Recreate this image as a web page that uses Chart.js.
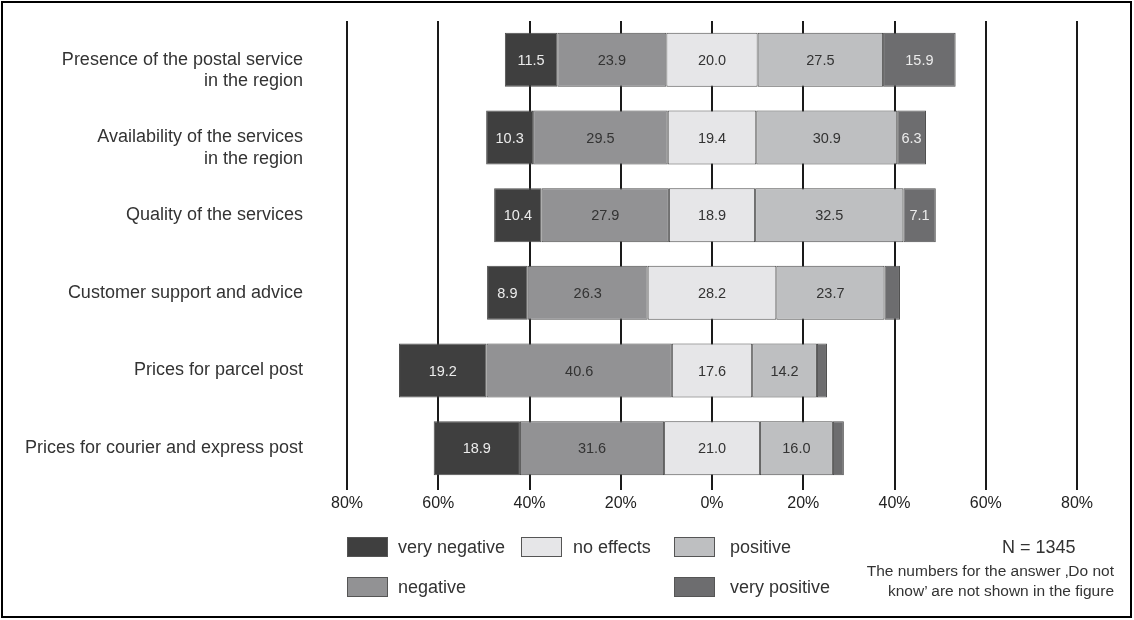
<!DOCTYPE html>
<html>
<head>
<meta charset="utf-8">
<script src="https://cdn.jsdelivr.net/npm/chart.js@4/dist/chart.umd.min.js"></script>
<style>
  html, body { margin: 0; padding: 0; background: #fff; }
  #wrap { position: relative; width: 1134px; height: 620px; overflow: hidden; font-family: "Liberation Sans", Arial, sans-serif; }
  #frame { position: absolute; left: 1px; top: 1px; width: 1131px; height: 617px; border: 2px solid #000; box-sizing: border-box; pointer-events: none; }
  #chartBox { position: absolute; left: 0; top: 0; width: 1134px; height: 620px; }
  .lg-box { position: absolute; width: 41px; height: 20px; box-sizing: border-box; border: 1px solid #555; }
  .lg-txt { position: absolute; font-size: 18px; color: #333; line-height: 20px; white-space: nowrap; }
  #nText { position: absolute; font-size: 18px; color: #333; line-height: 20px; white-space: nowrap; }
  #note { position: absolute; font-size: 15.5px; color: #333; line-height: 20px; text-align: right; white-space: nowrap; }
</style>
</head>
<body>
<div id="wrap">
  <div id="chartBox"><canvas id="c"></canvas></div>
  <div id="legend"></div>
  <div id="nText">N = 1345</div>
  <div id="note">The numbers for the answer ‚Do not<br>know’ are not shown in the figure</div>
  <div id="frame"></div>
</div>
<script>
// ---- data ----
const categories = [
  ["Presence of the postal service", "in the region"],
  ["Availability of the services", "in the region"],
  "Quality of the services",
  "Customer support and advice",
  "Prices for parcel post",
  "Prices for courier and express post"
];
const seriesNames = ["very negative", "negative", "no effects", "positive", "very positive"];
const veryNegative = [11.5, 10.3, 10.4, 8.9, 19.2, 18.9];
const negative     = [23.9, 29.5, 27.9, 26.3, 40.6, 31.6];
const noEffects    = [20.0, 19.4, 18.9, 28.2, 17.6, 21.0];
const positive     = [27.5, 30.9, 32.5, 23.7, 14.2, 16.0];
const veryPositive = [15.9, 6.3, 7.1, 3.4, 2.2, 2.4];
const xTickValues  = [-80, -60, -40, -20, 0, 20, 40, 60, 80];

// ---- styles ----
const colors = ["#3f3f3f", "#929294", "#e6e6e8", "#bebfc1", "#6d6d6f"];
const labelColors = ["#ececec", "#333333", "#333333", "#333333", "#ececec"];

// ---- build floating segments centred on "no effects" ----
const seriesValues = [veryNegative, negative, noEffects, positive, veryPositive];
const segs = [[], [], [], [], []];
for (let j = 0; j < categories.length; j++) {
  const h = noEffects[j] / 2;
  segs[1].push([-h - negative[j], -h]);
  segs[0].push([-h - negative[j] - veryNegative[j], -h - negative[j]]);
  segs[2].push([-h, h]);
  segs[3].push([h, h + positive[j]]);
  segs[4].push([h + positive[j], h + positive[j] + veryPositive[j]]);
}

const datasets = seriesNames.map((name, i) => ({
  label: name,
  data: segs[i],
  backgroundColor: colors[i],
  borderColor: "#4d4d4d",
  borderWidth: 1,
  borderSkipped: false,
  grouped: false,
  barPercentage: 0.695,
  categoryPercentage: 1.0
}));

const barLabels = {
  id: "barLabels",
  afterDatasetsDraw(chart) {
    const ctx = chart.ctx;
    ctx.save();
    ctx.font = "14.5px 'Liberation Sans', Arial, sans-serif";
    ctx.textAlign = "center";
    ctx.textBaseline = "middle";
    chart.data.datasets.forEach((ds, i) => {
      const meta = chart.getDatasetMeta(i);
      meta.data.forEach((bar, j) => {
        const v = seriesValues[i][j];
        if (v < 5) return;
        const p = bar.getCenterPoint();
        ctx.fillStyle = labelColors[i];
        ctx.fillText(v.toFixed(1), p.x, p.y + 1);
      });
    });
    ctx.restore();
  }
};

new Chart(document.getElementById("c"), {
  type: "bar",
  data: { labels: categories, datasets },
  options: {
    indexAxis: "y",
    responsive: true,
    maintainAspectRatio: false,
    animation: false,
    devicePixelRatio: 1,
    layout: { padding: { top: 21, right: 57, bottom: 103, left: 0 } },
    plugins: { legend: { display: false }, tooltip: { enabled: false } },
    scales: {
      x: {
        type: "linear",
        min: -80, max: 80,
        afterBuildTicks(scale) { scale.ticks = xTickValues.map(v => ({ value: v })); },
        afterFit(scale) { scale.height = 30; },
        border: { display: false },
        grid: { color: "#1a1a1a", lineWidth: 2, drawTicks: true, tickLength: 3 },
        ticks: {
          padding: 4,
          color: "#222",
          font: { family: "'Liberation Sans', Arial, sans-serif", size: 16 },
          callback: (v) => Math.abs(v) + "%"
        }
      },
      y: {
        afterFit(scale) { scale.width = 347; scale.paddingTop = 0; scale.paddingBottom = 0; },
        border: { display: false },
        grid: { display: false, drawTicks: false },
        ticks: {
          padding: 44,
          color: "#333",
          font: { family: "'Liberation Sans', Arial, sans-serif", size: 18, lineHeight: 1.17 },
          callback: function (v, idx) {
            const l = categories[idx];
            return Array.isArray(l) ? [""].concat(l) : l;
          }
        }
      }
    }
  },
  plugins: [barLabels]
});

// ---- legend (HTML) ----
const legendSlots = [
  { box: [347, 537], txt: 398 },  // very negative
  { box: [347, 577], txt: 398 },  // negative
  { box: [521, 537], txt: 573 },  // no effects
  { box: [674, 537], txt: 730 },  // positive
  { box: [674, 577], txt: 730 }   // very positive
];
const lg = document.getElementById("legend");
seriesNames.forEach((name, i) => {
  const s = legendSlots[i];
  const b = document.createElement("div");
  b.className = "lg-box";
  b.style.left = s.box[0] + "px"; b.style.top = s.box[1] + "px";
  b.style.background = colors[i];
  lg.appendChild(b);
  const t = document.createElement("div");
  t.className = "lg-txt";
  t.textContent = name;
  t.style.left = s.txt + "px"; t.style.top = (s.box[1]) + "px";
  lg.appendChild(t);
});
const nT = document.getElementById("nText");
nT.style.left = "1002px"; nT.style.top = "537px";
const note = document.getElementById("note");
note.style.right = (1134 - 1114) + "px"; note.style.top = "561px";
</script>
</body>
</html>
